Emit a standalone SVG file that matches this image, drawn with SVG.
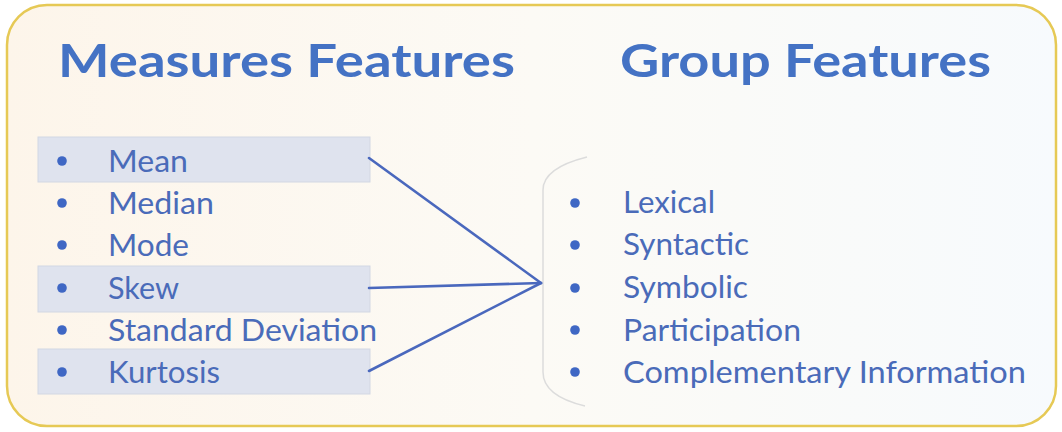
<svg xmlns="http://www.w3.org/2000/svg" width="1062" height="432" viewBox="0 0 1062 432">
<defs>
<linearGradient id="bg" x1="0" y1="0" x2="1" y2="0">
<stop offset="0" stop-color="#fdf5ea"/>
<stop offset="0.5" stop-color="#fcfaf5"/>
<stop offset="1" stop-color="#f7fafd"/>
</linearGradient>
<style>
.title{font-family:Lato,"Liberation Sans",sans-serif;font-weight:bold;font-size:46px;fill:#4472c4}
.item{font-family:Lato,"Liberation Sans",sans-serif;font-size:31px;fill:#4a6bb9}
.hl{fill:#dfe3ee;stroke:#d2d7e3;stroke-width:1}
.dot{fill:#3f67c4}
.conn{stroke:#4a68bd;stroke-width:2.6;fill:none;stroke-linecap:round}
</style>
</defs>
<rect x="0" y="0" width="1062" height="432" fill="#ffffff"/>
<rect id="frame" x="7" y="5" width="1049" height="421" rx="40" ry="40" fill="url(#bg)" stroke="#e6c955" stroke-width="2.5"/>
<g id="measures">
<text class="title" x="58" y="77" textLength="457" lengthAdjust="spacingAndGlyphs">Measures Features</text>
<g id="mean"><rect class="hl" x="38" y="137" width="332" height="45"/><circle class="dot" cx="62" cy="161" r="4.8"/><text class="item" x="108" y="172" textLength="80" lengthAdjust="spacingAndGlyphs">Mean</text></g>
<g id="median"><circle class="dot" cx="62" cy="203" r="4.8"/><text class="item" x="108" y="214" textLength="106" lengthAdjust="spacingAndGlyphs">Median</text></g>
<g id="mode"><circle class="dot" cx="62" cy="245" r="4.8"/><text class="item" x="108" y="256" textLength="81" lengthAdjust="spacingAndGlyphs">Mode</text></g>
<g id="skew"><rect class="hl" x="38" y="266" width="332" height="46"/><circle class="dot" cx="62" cy="288" r="4.8"/><text class="item" x="108" y="299" textLength="71" lengthAdjust="spacingAndGlyphs">Skew</text></g>
<g id="stddev"><circle class="dot" cx="62" cy="330" r="4.8"/><text class="item" x="108" y="341" textLength="269" lengthAdjust="spacingAndGlyphs">Standard Deviation</text></g>
<g id="kurtosis"><rect class="hl" x="38" y="349" width="332" height="45"/><circle class="dot" cx="62" cy="372" r="4.8"/><text class="item" x="108" y="383" textLength="112" lengthAdjust="spacingAndGlyphs">Kurtosis</text></g>
</g>
<g id="group">
<text class="title" x="620" y="77" textLength="371" lengthAdjust="spacingAndGlyphs">Group Features</text>
<path d="M587 157 Q543 168 543 190 L543 372 Q543 396 585 406" fill="none" stroke="#dcdcdc" stroke-width="1.5"/>
<g id="lexical"><circle class="dot" cx="575" cy="203" r="4.8"/><text class="item" x="623" y="213" textLength="92" lengthAdjust="spacingAndGlyphs">Lexical</text></g>
<g id="syntactic"><circle class="dot" cx="575" cy="245" r="4.8"/><text class="item" x="623" y="255" textLength="126" lengthAdjust="spacingAndGlyphs">Syntactic</text></g>
<g id="symbolic"><circle class="dot" cx="575" cy="288" r="4.8"/><text class="item" x="623" y="298" textLength="125" lengthAdjust="spacingAndGlyphs">Symbolic</text></g>
<g id="participation"><circle class="dot" cx="575" cy="330" r="4.8"/><text class="item" x="623" y="341" textLength="178" lengthAdjust="spacingAndGlyphs">Participation</text></g>
<g id="complementary"><circle class="dot" cx="575" cy="372" r="4.8"/><text class="item" x="623" y="383" textLength="403" lengthAdjust="spacingAndGlyphs">Complementary Information</text></g>
</g>
<g id="connectors">
<line class="conn" x1="369" y1="158" x2="541" y2="283"/>
<line class="conn" x1="369" y1="288" x2="541" y2="283"/>
<line class="conn" x1="369" y1="371" x2="541" y2="283"/>
</g>
</svg>
